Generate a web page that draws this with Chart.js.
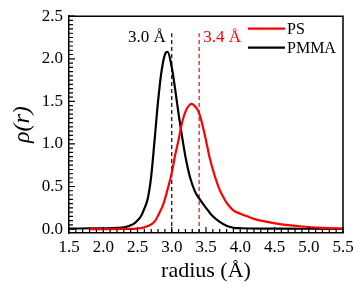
<!DOCTYPE html>
<html><head><meta charset="utf-8">
<script src="https://cdn.jsdelivr.net/npm/chart.js@4"></script>
<style>html,body{margin:0;padding:0;background:#fff}</style>
</head><body>
<canvas id="c" width="358" height="288"></canvas>
<script>
// ---- data ----
const pmmaRadius = [1.5,1.8,2.0,2.2,2.3,2.35,2.4,2.45,2.5,2.55,2.6,2.65,2.7,2.75,2.8,2.85,2.9,2.94,3.0,3.05,3.1,3.14,3.2,3.27,3.34,3.4,3.5,3.6,3.7,3.8,3.85,3.9,4.0,4.5,5.0,5.5];
const pmmaRho    = [0.005,0.01,0.01,0.015,0.02,0.03,0.045,0.065,0.10,0.15,0.24,0.36,0.62,1.05,1.50,1.85,2.05,2.08,1.90,1.64,1.35,1.14,0.85,0.60,0.44,0.36,0.25,0.15,0.085,0.04,0.026,0.015,0.01,0.006,0.004,0.003];
const psRadius = [1.8,2.0,2.3,2.5,2.6,2.65,2.7,2.76,2.8,2.88,2.95,3.0,3.05,3.1,3.15,3.2,3.25,3.29,3.33,3.37,3.4,3.43,3.47,3.5,3.55,3.6,3.65,3.7,3.75,3.8,3.85,3.9,4.0,4.1,4.2,4.3,4.45,4.6,4.9,5.2,5.5];
const psRho    = [0.0,0.0,0.002,0.006,0.02,0.035,0.055,0.10,0.16,0.30,0.50,0.66,0.87,1.05,1.25,1.38,1.45,1.47,1.45,1.41,1.36,1.28,1.15,1.04,0.85,0.70,0.57,0.46,0.38,0.31,0.26,0.22,0.18,0.15,0.12,0.10,0.075,0.055,0.03,0.015,0.006];
const seriesNames = ['PS', 'PMMA'];
const markerRadius = [3.0, 3.4];
const markerLabels = ['3.0 Å', '3.4 Å'];
const markerTop = 2.3;
const xTickValues = [1.5,2.0,2.5,3.0,3.5,4.0,4.5,5.0,5.5];
const yTickValues = [0.0,0.5,1.0,1.5,2.0,2.5];
const xMinorStep = 0.1;
const yMinorStep = 0.05;
const xRange = [1.5, 5.5];
const yRange = [-0.046, 2.5];

const SERIF = '"Liberation Serif","Times New Roman",serif';
Chart.defaults.font.family = SERIF;
Chart.defaults.color = '#000';
const toPts = (xs, ys) => xs.map((x, i) => ({x: x, y: ys[i]}));

const datasets = [
  {label: seriesNames[0], data: toPts(psRadius, psRho), borderColor: '#ff0000', borderWidth: 2.2, pointRadius: 0, cubicInterpolationMode: 'monotone', tension: 0.4},
  {label: seriesNames[1], data: toPts(pmmaRadius, pmmaRho), borderColor: '#000000', borderWidth: 2.2, pointRadius: 0, cubicInterpolationMode: 'monotone', tension: 0.4},
  {label: 'm0', data: [{x: markerRadius[0], y: yRange[0]}, {x: markerRadius[0], y: markerTop}], borderColor: '#000000', borderWidth: 1.2, borderDash: [4, 3], pointRadius: 0},
  {label: 'm1', data: [{x: markerRadius[1], y: yRange[0]}, {x: markerRadius[1], y: markerTop}], borderColor: '#ff0000', borderWidth: 1.2, borderDash: [4, 3], pointRadius: 0}
];

const decor = {
  id: 'decor',
  afterDraw(chart) {
    const ctx = chart.ctx, a = chart.chartArea;
    const xs = chart.scales.x, ys = chart.scales.y;
    ctx.save();
    ctx.setLineDash([]);
    ctx.strokeStyle = '#000000';
    ctx.lineWidth = 1.2;
    // inward tick marks
    const nx = Math.round((xRange[1] - xRange[0]) / xMinorStep);
    ctx.beginPath();
    for (let i = 0; i <= nx; i++) {
      const px = xs.getPixelForValue(xRange[0] + i * xMinorStep);
      const len = (i % 5 === 0) ? 6 : 4;
      ctx.moveTo(px, a.bottom);
      ctx.lineTo(px, a.bottom - len);
    }
    const ny = Math.round(yRange[1] / yMinorStep);
    for (let i = 0; i <= ny; i++) {
      const py = ys.getPixelForValue(i * yMinorStep);
      const len = (i % 10 === 0) ? 6 : 4;
      ctx.moveTo(a.left, py);
      ctx.lineTo(a.left + len, py);
    }
    ctx.stroke();
    // top & right frame
    ctx.lineWidth = 1.5;
    ctx.beginPath();
    ctx.moveTo(a.left, a.top); ctx.lineTo(a.right, a.top); ctx.lineTo(a.right, a.bottom);
    ctx.stroke();
    // marker labels
    ctx.font = '17px ' + SERIF;
    ctx.textBaseline = 'middle';
    ctx.fillStyle = '#000'; ctx.textAlign = 'right';
    ctx.fillText(markerLabels[0], xs.getPixelForValue(markerRadius[0]) - 6, ys.getPixelForValue(2.25));
    ctx.fillStyle = '#ff0000'; ctx.textAlign = 'left';
    ctx.fillText(markerLabels[1], xs.getPixelForValue(markerRadius[1]) + 4, ys.getPixelForValue(2.25));
    // legend
    ctx.font = '16px ' + SERIF;
    ctx.textAlign = 'left';
    const rows = [a.top + 12.5, a.top + 31.5];
    [0, 1].forEach((k, i) => {
      const ds = chart.data.datasets[k];
      ctx.strokeStyle = ds.borderColor; ctx.lineWidth = 2.2;
      ctx.beginPath(); ctx.moveTo(a.right - 95, rows[i]); ctx.lineTo(a.right - 58, rows[i]); ctx.stroke();
      ctx.fillStyle = '#000';
      ctx.fillText(ds.label, a.right - 56, rows[i] + 1);
    });
    ctx.restore();
  }
};

new Chart(document.getElementById('c'), {
  type: 'line',
  data: {datasets: datasets},
  options: {
    responsive: false,
    animation: false,
    devicePixelRatio: 1,
    layout: {padding: {top: 11, right: 15, left: 0, bottom: 0}},
    plugins: {legend: {display: false}, tooltip: {enabled: false}},
    scales: {
      x: {
        type: 'linear', min: xRange[0], max: xRange[1],
        afterBuildTicks: s => { s.ticks = xTickValues.map(v => ({value: v})); },
        afterFit: s => { s.height = 55; },
        ticks: {callback: v => Number(v).toFixed(1), color: '#000', font: {family: SERIF, size: 17}, padding: 4, maxRotation: 0, autoSkip: false},
        grid: {display: false, drawTicks: false},
        border: {display: true, color: '#000', width: 1.5},
        title: {display: true, text: 'radius (Å)', color: '#000', font: {family: SERIF, size: 22}, padding: {top: 0, bottom: 4}}
      },
      y: {
        type: 'linear', min: yRange[0], max: yRange[1],
        afterBuildTicks: s => { s.ticks = yTickValues.map(v => ({value: v})); },
        afterFit: s => { s.width = 69; },
        ticks: {callback: v => Number(v).toFixed(1), color: '#000', font: {family: SERIF, size: 17}, padding: 6, autoSkip: false},
        grid: {display: false, drawTicks: false},
        border: {display: true, color: '#000', width: 1.5},
        title: {display: true, text: 'ρ(r)', color: '#000', font: {family: SERIF, size: 24, style: 'italic'}, padding: {top: 8, bottom: 0}}
      }
    }
  },
  plugins: [decor]
});
</script>
</body></html>
